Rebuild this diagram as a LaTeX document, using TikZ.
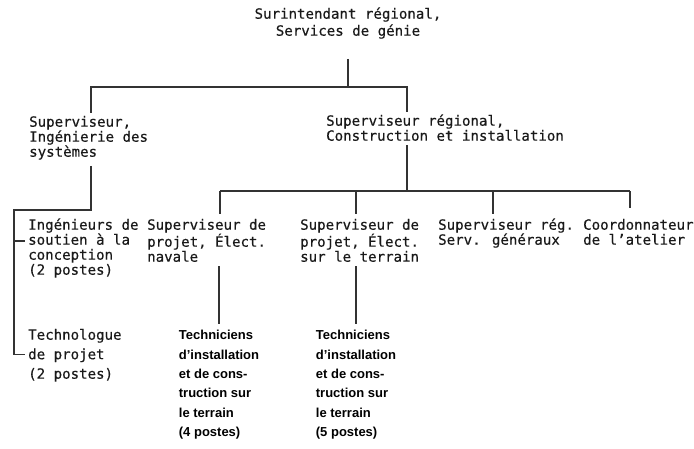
\documentclass[tikz,border=0pt]{standalone}
\usepackage{fontspec}
\usepackage{tikz}
\usetikzlibrary{calc}
\newfontfamily\typewfont[FakeBold=0.4]{DejaVu Sans Mono}
\newfontfamily\techfont{Liberation Sans}
\tikzstyle{link}=[line width=1.1pt, draw=black!80]
\tikzstyle{post}=[inner sep=0pt, anchor=north west, align=left, text=black!90, font={\typewfont\fontsize{14.1}{15}\selectfont}]
\tikzstyle{headpost}=[post, anchor=north, align=center, font={\typewfont\fontsize{14.1}{17}\selectfont}]
\tikzstyle{techpost}=[inner sep=0pt, anchor=north, align=left, text=black, font={\techfont\bfseries\fontsize{13}{19.4}\selectfont}]
\newcommand{\st}{\rule{0pt}{12pt}}

\begin{document}
\begin{tikzpicture}[x=1pt,y=-1pt]
	\useasboundingbox (0,0) rectangle (694,448);
	\node[headpost] (surint) at (348,6.5) {\st Surintendant régional,\\Services de génie};
	\node[post] (supIS) at (29,114.5) {\st Superviseur,\\Ingénierie des\\systèmes};
	\node[post] (supCI) at (326,113.5) {\st Superviseur régional,\\Construction et installation};
	\node[post] (ingSC) at (28,217.5) {\st Ingénieurs de\\soutien à la\\conception\\(2 postes)};
	\node[post, font={\typewfont\fontsize{14.1}{19.5}\selectfont}] (techP) at (28,327.5) {\st Technologue\\de projet\\(2 postes)};
	\node[post] (supEN) at (147,217.5) {\st Superviseur de\\projet, Élect.\\navale};
	\node[post] (supET) at (300,217.5) {\st Superviseur de\\projet, Élect.\\sur le terrain};
	\node[post] (supSG) at (438,217.5) {\st Superviseur rég.\\Serv. généraux};
	\node[post] (coord) at (583,217.5) {\st Coordonnateur\\de l’atelier};
	\node[techpost] (techA) at (219,328.5) {\rule{0pt}{11pt}Techniciens\\d’installation\\et de cons-\\truction sur\\le terrain\\(4 postes)};
	\node[techpost] (techB) at (356,328.5) {\rule{0pt}{11pt}Techniciens\\d’installation\\et de cons-\\truction sur\\le terrain\\(5 postes)};
	\coordinate (busL) at (91,87);
	\coordinate (busR) at (407,87);
	\coordinate (railTop) at (14,210);
	\coordinate (tickS) at (14,241);
	\coordinate (dEN) at (220,191);
	\coordinate (dET) at (356,191);
	\coordinate (dSG) at (493,191);
	\coordinate (dCO) at (630,191);
	\draw[link] ([yshift=-20pt]surint.south) -- (surint.south |- busL);
	\draw[link] ([yshift=2pt]supIS.north -| busL) |- (busR) -- ([yshift=2pt]supCI.north -| busR);
	\draw[link, shorten >=3pt] ([yshift=-6pt]supIS.south -| busL) |- (railTop) |- (techP.west);
	\draw[link, shorten >=3pt] (tickS) -- (tickS -| ingSC.west);
	\draw[link] ([yshift=-4pt]supCI.south -| busR) -- (busR |- dEN);
	\draw[link] (dEN) -- (dCO);
	\foreach \d/\n in {dEN/supEN, dET/supET, dSG/supSG}
		\draw[link] (\d) -- ([yshift=4pt]\n.north -| \d);
	\draw[link] (dCO) -- ([yshift=10pt]coord.north -| dCO);
	\draw[link] ([yshift=-4pt]supEN.south -| techA.north) -- ([yshift=5pt]techA.north);
	\draw[link] ([yshift=-4pt]supET.south -| techB.north) -- ([yshift=5pt]techB.north);
\end{tikzpicture}
\end{document}
